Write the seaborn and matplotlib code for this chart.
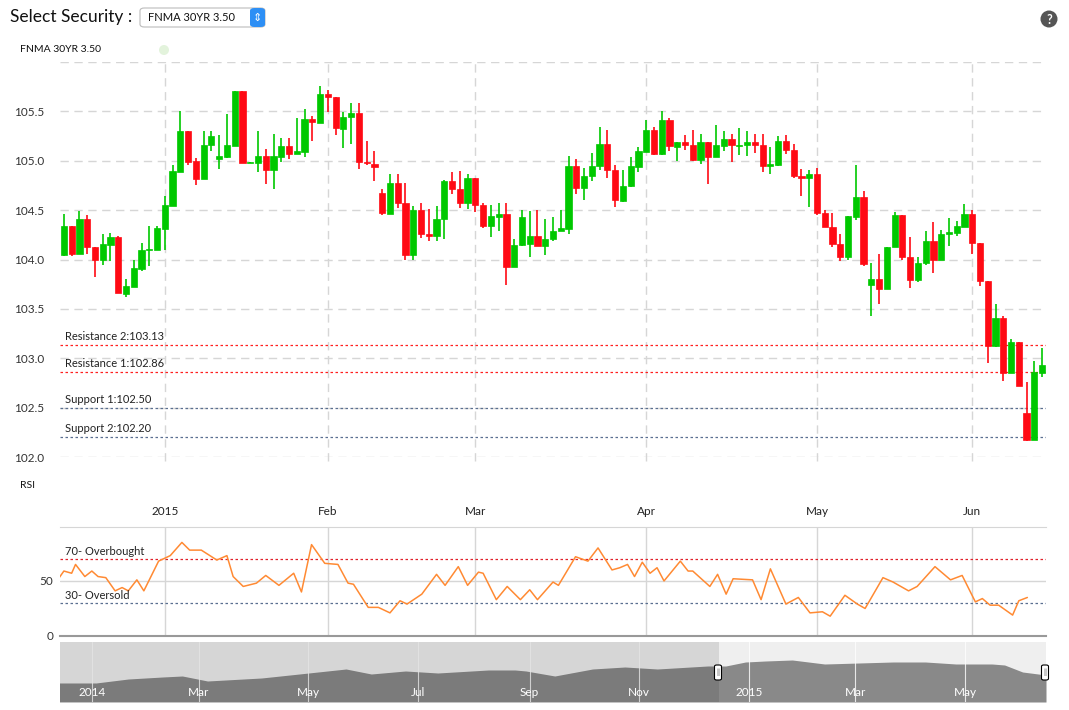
import matplotlib
matplotlib.use("Agg")
import matplotlib.pyplot as plt
from matplotlib.patches import FancyBboxPatch, Circle
from matplotlib.transforms import IdentityTransform
import numpy as np
import pandas as pd
import seaborn as sns

sns.set_style("white")
plt.rcParams['font.family'] = ['Lato', 'DejaVu Sans']

# daily candles, 2014-12-12 .. 2015-06-12 (trading days)
opens = [104.05, 104.34, 104.06, 104.41, 104.13, 103.99, 104.15, 104.23, 103.65, 103.72,
         103.90, 104.10, 104.10, 104.31, 104.54, 104.89, 105.30, 105.00, 104.82, 105.16,
         105.02, 105.04, 105.15, 105.71, 104.98, 104.98, 105.05, 104.91, 105.04, 105.15,
         105.07, 105.09, 105.42, 105.38, 105.68, 105.65, 105.32, 105.44, 105.48, 104.99,
         104.97, 104.67, 104.46, 104.77, 104.57, 104.05, 104.50, 104.26, 104.24, 104.41,
         104.79, 104.71, 104.57, 104.83, 104.55, 104.34, 104.43, 104.46, 103.92, 104.15,
         104.16, 104.24, 104.14, 104.21, 104.29, 104.31, 104.95, 104.72, 104.85, 104.95,
         105.17, 104.91, 104.59, 104.74, 104.94, 105.09, 105.31, 105.07, 105.41, 105.14,
         105.19, 105.16, 105.01, 105.19, 105.04, 105.15, 105.22, 105.15, 105.16, 105.19,
         105.16, 104.95, 104.96, 105.20, 105.11, 104.85, 104.83, 104.87, 104.47, 104.33,
         104.16, 104.03, 104.43, 104.63, 103.74, 103.80, 103.70, 104.13, 104.45, 104.03,
         103.79, 103.96, 104.19, 103.99, 104.26, 104.27, 104.33, 104.46, 104.17, 103.78,
         103.12, 103.41, 102.85, 103.16, 102.45, 102.17, 102.85]
closes = [104.34, 104.06, 104.41, 104.13, 103.99, 104.16, 104.23, 103.66, 103.73, 103.91,
          104.10, 104.11, 104.32, 104.55, 104.90, 105.30, 104.99, 104.82, 105.16, 105.25,
          105.05, 105.16, 105.71, 104.98, 104.99, 105.05, 104.91, 105.05, 105.15, 105.07,
          105.10, 105.42, 105.39, 105.68, 105.65, 105.33, 105.44, 105.48, 104.99, 104.98,
          104.94, 104.47, 104.77, 104.57, 104.05, 104.50, 104.26, 104.24, 104.41, 104.79,
          104.71, 104.57, 104.83, 104.55, 104.34, 104.44, 104.46, 103.92, 104.15, 104.43,
          104.24, 104.14, 104.21, 104.29, 104.32, 104.95, 104.72, 104.85, 104.95, 105.17,
          104.91, 104.60, 104.74, 104.95, 105.10, 105.31, 105.07, 105.41, 105.15, 105.19,
          105.16, 105.01, 105.19, 105.04, 105.16, 105.22, 105.16, 105.16, 105.19, 105.16,
          104.95, 104.97, 105.20, 105.11, 104.85, 104.83, 104.87, 104.47, 104.33, 104.16,
          104.03, 104.44, 104.63, 103.95, 103.80, 103.70, 104.13, 104.45, 104.03, 103.79,
          103.96, 104.19, 103.99, 104.26, 104.28, 104.34, 104.46, 104.17, 103.78, 103.12,
          103.41, 102.85, 103.16, 102.72, 102.17, 102.86, 102.93]
highs = [104.46, 104.34, 104.49, 104.45, 104.13, 104.26, 104.27, 104.24, 103.80, 104.00,
         104.17, 104.34, 104.34, 104.64, 104.96, 105.50, 105.30, 105.03, 105.30, 105.30,
         105.26, 105.47, 105.71, 105.71, 104.99, 105.30, 105.12, 105.27, 105.23, 105.23,
         105.43, 105.52, 105.45, 105.76, 105.72, 105.65, 105.49, 105.58, 105.58, 105.20,
         105.10, 104.71, 104.87, 104.87, 104.77, 104.54, 104.57, 104.51, 104.54, 104.81,
         104.89, 104.90, 104.87, 104.83, 104.57, 104.55, 104.57, 104.57, 104.21, 104.50,
         104.49, 104.50, 104.41, 104.43, 104.50, 105.05, 105.02, 104.93, 105.08, 105.34,
         105.31, 104.96, 104.91, 105.04, 105.14, 105.41, 105.34, 105.50, 105.43, 105.19,
         105.26, 105.31, 105.27, 105.19, 105.36, 105.30, 105.27, 105.33, 105.30, 105.27,
         105.27, 105.14, 105.25, 105.26, 105.17, 104.92, 104.91, 104.93, 104.50, 104.47,
         104.26, 104.44, 104.96, 104.69, 103.96, 104.06, 104.13, 104.48, 104.45, 104.23,
         104.03, 104.29, 104.38, 104.30, 104.42, 104.39, 104.56, 104.50, 104.17, 103.78,
         103.55, 103.43, 103.20, 103.16, 102.76, 102.97, 103.10]
lows = [104.04, 104.04, 104.06, 104.06, 103.82, 103.94, 103.98, 103.66, 103.62, 103.72,
        103.88, 103.93, 104.10, 104.10, 104.54, 104.89, 104.96, 104.75, 104.82, 105.10,
        104.92, 105.03, 105.15, 104.98, 104.98, 104.89, 104.76, 104.71, 104.99, 105.02,
        105.07, 105.04, 105.20, 105.38, 105.49, 105.26, 105.13, 105.17, 104.92, 104.96,
        104.80, 104.45, 104.46, 104.52, 104.00, 104.00, 104.22, 104.19, 104.19, 104.21,
        104.66, 104.52, 104.51, 104.48, 104.32, 104.23, 104.29, 103.74, 103.92, 104.14,
        104.03, 104.14, 104.05, 104.19, 104.29, 104.26, 104.66, 104.60, 104.80, 104.91,
        104.83, 104.53, 104.58, 104.73, 104.89, 105.09, 105.06, 105.06, 105.10, 105.00,
        105.11, 105.00, 104.97, 104.76, 105.04, 105.10, 104.99, 105.06, 105.05, 105.08,
        104.89, 104.87, 104.95, 105.07, 104.83, 104.64, 104.53, 104.45, 104.33, 104.13,
        103.98, 103.99, 104.40, 103.93, 103.43, 103.55, 103.70, 104.13, 104.00, 103.71,
        103.77, 103.94, 103.86, 103.99, 104.14, 104.24, 104.33, 104.06, 103.73, 102.95,
        103.11, 102.77, 102.85, 102.72, 102.16, 102.17, 102.81]

holidays = ['2014-12-25', '2015-01-01', '2015-02-16', '2015-05-25']
month_labels = ['2015', 'Feb', 'Mar', 'Apr', 'May', 'Jun']

levels = [103.13, 102.86, 102.50, 102.20]
level_names = ['Resistance 2', 'Resistance 1', 'Support 1', 'Support 2']
level_colors = ['#ff2020', '#ff2020', '#5a6f90', '#5a6f90']

# RSI (position in trading days, value)
rsi_pos = [-0.8, 0, 1, 1.5, 2.7, 3.6, 4.4, 5.4, 6.6, 7.5, 8.3, 9.4, 10.3, 12.2, 13.7, 15.2,
           16.2, 17.7, 19.7, 21, 21.8, 23.1, 24.8, 26, 27.7, 29.6, 30.6, 31.9, 33.6, 35.3,
           36.6, 37.3, 39.2, 40.5, 42, 43.3, 44.2, 46.1, 48, 49.1, 50.8, 52, 53.4, 54, 55.7,
           57.1, 58.8, 60, 61, 63, 63.7, 65.9, 67.5, 68.8, 70.6, 71.6, 72.6, 73.5, 74.5,
           75.5, 76.4, 77.3, 79.4, 80.4, 81, 83.2, 84.2, 85.3, 86.2, 88.7, 89.8, 91, 93,
           94.6, 96.1, 97.7, 98.7, 100.6, 102.2, 103.2, 105.5, 106.8, 108.8, 109.9, 112.2,
           114.2, 115.7, 117.4, 118.3, 119.3, 120.4, 122.2, 123, 124.1]
rsi_val = [51, 59, 57, 65, 54, 59, 54, 53, 41, 44, 41, 51, 41, 68, 73, 85,
           78, 78, 69, 73, 54, 45, 48, 55, 46, 57, 40, 83, 66, 65,
           48, 47, 26, 26, 21, 32, 29, 38, 56, 46, 63, 46, 58, 57, 33,
           45, 33, 42, 33, 49, 46, 72, 68, 80, 60, 62, 65, 54, 67,
           57, 62, 50, 68, 59, 59, 45, 56, 38, 52, 51, 33, 61, 29,
           35, 21, 22, 18, 37, 29, 25, 53, 49, 41, 45, 63,
           51, 55, 31, 34, 28, 28, 19, 32, 35]

# navigator history
nav_dates = ['2013-12-11', '2014-01-03', '2014-01-21', '2014-02-09', '2014-02-20', '2014-03-06',
             '2014-04-05', '2014-04-26', '2014-05-22', '2014-06-05', '2014-06-24', '2014-07-12',
             '2014-08-09', '2014-08-24', '2014-08-30', '2014-09-15', '2014-10-06', '2014-10-24',
             '2014-11-11', '2014-12-09', '2014-12-19', '2014-12-30', '2015-01-10', '2015-01-25',
             '2015-02-12', '2015-03-03', '2015-03-22', '2015-04-09', '2015-04-26', '2015-05-16',
             '2015-05-23', '2015-06-02', '2015-06-15']
nav_vals = [19, 19, 23, 25, 26, 21, 24, 28, 33, 28, 31, 29, 32, 32, 31, 26, 33, 35, 33, 36,
            36, 40, 41, 42, 38, 39, 40, 40, 38, 38, 37, 30, 27]
nav_ticks = ['2014-01-01', '2014-03-01', '2014-05-01', '2014-07-01', '2014-09-01', '2014-11-01',
             '2015-01-01', '2015-03-01', '2015-05-01']
nav_labels = ['2014', 'Mar', 'May', 'Jul', 'Sep', 'Nov', '2015', 'Mar', 'May']

dates = pd.bdate_range('2014-12-12', '2015-06-12', freq='C', holidays=holidays)
n = len(dates)
idx = np.arange(n)
month_idx = [i for i in range(1, n) if dates[i].month != dates[i - 1].month]

W, H = 1069, 710
fig = plt.figure(figsize=(W / 100, H / 100), dpi=100)


def axrect(x0, y0, x1, y1):
    return fig.add_axes([x0 / W, 1 - y1 / H, (x1 - x0) / W, (y1 - y0) / H])


def dot(x, y, r, color):
    # circle in pixel units (y from top)
    fig.patches.append(Circle((x, H - y), r, transform=IdentityTransform(),
                              facecolor=color, edgecolor='none'))


# ---- price panel
ax = axrect(60, 62, 1046, 457)
up = np.array(closes) >= np.array(opens)
green, red = '#00c800', '#ff0a14'
cols = np.where(up, green, red)
ax.vlines(idx, lows, highs, colors=cols, linewidth=1.2, zorder=3)
bot = np.minimum(opens, closes)
hgt = np.maximum(np.abs(np.array(closes) - np.array(opens)), 0.008)
ax.bar(idx, hgt, bottom=bot, width=0.8, color=cols, edgecolor=cols, linewidth=0.5, zorder=4)
ax.set_xlim(-0.5, n - 0.5)
ax.set_ylim(102.0, 106.0)
yt = np.arange(102.0, 106.01, 0.5)
ax.set_yticks(yt)
ax.set_yticklabels(['%.1f' % v if v < 105.9 else '' for v in yt], fontsize=8.5, color='#333333')
ax.set_xticks([])
ax.tick_params(axis='y', length=0, pad=6)
for v in yt:
    ax.axhline(v, color='#d6d6d6', lw=1, ls=(0, (6, 4)), zorder=1)
for i in month_idx:
    ax.axvline(i, color='#d6d6d6', lw=1, ls=(0, (6, 4)), zorder=1, ymin=-0.01, clip_on=False)
for lv, nm, c in zip(levels, level_names, level_colors):
    ax.axhline(lv, color=c, lw=0.9, ls=(0, (2, 2)), zorder=2)
    ax.text(0.2, lv + 0.03, '%s:%.2f' % (nm, lv), fontsize=8, color='#222222', va='bottom', zorder=5)
for s in ax.spines.values():
    s.set_visible(False)
for lab in ax.get_yticklabels():
    lab.set_horizontalalignment('left')
    lab.set_x(-38 / 986)

fig.text(20 / W, 1 - 50 / H, 'FNMA 30YR 3.50', fontsize=7.5, va='center', color='#111111')
dot(164, 50, 5, '#e3f3dc')

# ---- RSI panel
ax2 = axrect(60, 527, 1046, 636)
sns.lineplot(x=rsi_pos, y=rsi_val, ax=ax2, color='#ff8a33', lw=1.1, zorder=3)
ax2.set_xlim(-0.5, n - 0.5)
ax2.set_ylim(0, 99)
ax2.axhline(70, color='#e0202a', lw=0.9, ls=(0, (2, 2)))
ax2.axhline(30, color='#5a6f90', lw=0.9, ls=(0, (2, 2)))
ax2.axhline(50, color='#d6d6d6', lw=1, zorder=1)
for i in month_idx:
    ax2.axvline(i, color='#d6d6d6', lw=1, zorder=1)
ax2.text(0.2, 71.5, '70- Overbought', fontsize=8, color='#222222', va='bottom')
ax2.text(0.2, 31.5, '30- Oversold', fontsize=8, color='#222222', va='bottom')
ax2.set_yticks([0, 50])
ax2.set_yticklabels(['0', '50'], fontsize=8.5, color='#333333')
ax2.set_xticks(month_idx)
ax2.set_xticklabels(month_labels, fontsize=8.5, color='#222222')
ax2.xaxis.tick_top()
ax2.tick_params(length=0, pad=5)
ax2.tick_params(axis='x', pad=7)
for s in ['left', 'right']:
    ax2.spines[s].set_visible(False)
ax2.spines['top'].set_color('#d6d6d6')
ax2.spines['bottom'].set_color('#999999')
ax2.spines['bottom'].set_linewidth(1.5)
ax2.set_xlabel('')
ax2.set_ylabel('')
fig.text(20 / W, 1 - 485 / H, 'RSI', fontsize=7.5, va='center', color='#111111')

# ---- navigator
ax3 = axrect(60, 642, 1046, 702)
nd = pd.to_datetime(nav_dates)
x0, x1 = pd.Timestamp('2013-12-14'), pd.Timestamp('2015-06-15')
sel = pd.Timestamp('2014-12-15')
ax3.set_facecolor('#efefef')
ax3.fill_between(nd, 0, nav_vals, color='#898989', lw=0, zorder=2)
ax3.axvspan(x0, sel, color='black', alpha=0.1, lw=0, zorder=3)
for d, lab in zip(pd.to_datetime(nav_ticks), nav_labels):
    ax3.axvline(d, color='white', lw=0.8, alpha=0.8, zorder=2.5)
    ax3.text(d, 9, lab, color='white', fontsize=8.5, ha='center', va='center', zorder=4)
ax3.set_xlim(x0, x1)
ax3.set_ylim(0, 60)
ax3.set_xticks([])
ax3.set_yticks([])
for s in ax3.spines.values():
    s.set_visible(False)
for hx in [718, 1045]:
    fig.patches.append(FancyBboxPatch(((hx - 3.5) / W, 1 - 680 / H), 7 / W, 15 / H,
                                      boxstyle='round,pad=0,rounding_size=0.002',
                                      transform=fig.transFigure, facecolor='white',
                                      edgecolor='black', lw=0.8, zorder=10))
    fig.text(hx / W, 1 - 672.5 / H, '||', fontsize=5.5, ha='center', va='center', zorder=11)

# ---- header
fig.text(10 / W, 1 - 17 / H, 'Select Security :', fontsize=12.5, va='center', color='#111111')
fig.patches.append(FancyBboxPatch((140 / W, 1 - 27 / H), 125 / W, 19 / H,
                                  boxstyle='round,pad=0,rounding_size=0.004',
                                  transform=fig.transFigure, facecolor='white',
                                  edgecolor='#bbbbbb', lw=0.8))
fig.patches.append(FancyBboxPatch((250 / W, 1 - 27 / H), 15 / W, 19 / H,
                                  boxstyle='round,pad=0,rounding_size=0.004',
                                  transform=fig.transFigure, facecolor='#2d8ff5',
                                  edgecolor='none'))
fig.text(257.5 / W, 1 - 17.5 / H, '⇕', fontsize=8, color='white', ha='center', va='center',
         family='DejaVu Sans')
fig.text(148 / W, 1 - 17.5 / H, 'FNMA 30YR 3.50', fontsize=8, va='center', color='#111111')
dot(1049, 19, 8.5, '#555555')
fig.text(1049 / W, 1 - 19.5 / H, '?', fontsize=9, fontweight='bold', color='white',
         ha='center', va='center')

fig.savefig('out.png', dpi=100)
